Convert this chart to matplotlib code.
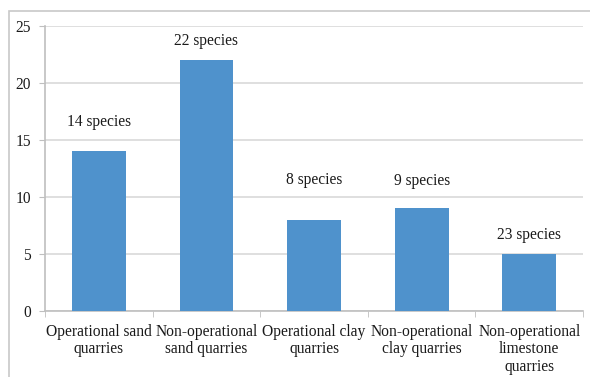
import numpy as np
import matplotlib
matplotlib.use('Agg')
import matplotlib.pyplot as plt
from matplotlib.patches import Rectangle

# datos
categorias = ['Operational sand\nquarries', 'Non-operational\nsand quarries',
              'Operational clay\nquarries', 'Non-operational\nclay quarries',
              'Non-operational\nlimestone\nquarries']
valores = [14, 22, 8, 9, 5]
etiquetas = ['14 species', '22 species', '8 species', '9 species', '23 species']
etiqueta_y = [16.6, 23.7, 11.5, 11.4, 6.7]

plt.rcParams['font.family'] = ['Liberation Serif', 'DejaVu Serif']
fs = 11.2

fig = plt.figure(figsize=(5.9, 3.77), dpi=100)
ax = fig.add_axes([45/590, 1-311/377, (583-45)/590, (311-26)/377])

# marco exterior
fig.patches.append(Rectangle((9/590, -0.1), 1.1, 1 - 11/377 + 0.1, transform=fig.transFigure,
                             fill=False, edgecolor='#C8C8C8', linewidth=1.2))

x = np.arange(len(valores))
ax.bar(x, valores, width=0.5, color='#4F92CC', zorder=3)

for xi, t, yy in zip(x, etiquetas, etiqueta_y):
    ax.text(xi, yy, t, ha='center', va='center', fontsize=fs, color='#1a1a1a')

ax.set_ylim(0, 25)
ax.set_xlim(-0.5, len(valores) - 0.5)
ax.set_yticks(range(0, 26, 5))
ax.yaxis.grid(True, color='#D9D9D9', linewidth=1.2, zorder=0)
ax.set_xticks(x)
ax.set_xticklabels(categorias, fontsize=fs, color='#1a1a1a', linespacing=1.15)
ax.set_xticks(np.arange(-0.5, len(valores)), minor=True)
ax.tick_params(axis='x', which='major', length=0, pad=9)
ax.tick_params(axis='x', which='minor', length=4, color='#BFBFBF')
ax.tick_params(axis='y', length=4, color='#BFBFBF', labelsize=fs, labelcolor='#1a1a1a', pad=6)

for s in ['top', 'right']:
    ax.spines[s].set_visible(False)
for s in ['left', 'bottom']:
    ax.spines[s].set_color('#BFBFBF')
    ax.spines[s].set_linewidth(1.2)

fig.savefig('out.png', dpi=100)
